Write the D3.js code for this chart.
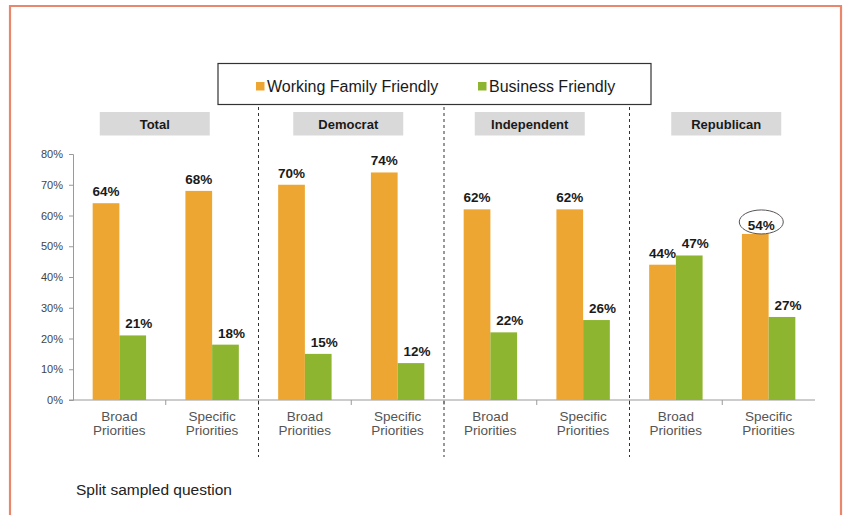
<!DOCTYPE html>
<html>
<head>
<meta charset="utf-8">
<script src="https://cdn.jsdelivr.net/npm/d3@7"></script>
<style>
  html, body { margin: 0; padding: 0; background: #fff; }
  svg { display: block; }
  text { font-family: "Liberation Sans", Arial, Helvetica, sans-serif; }
</style>
</head>
<body>
<svg id="chart" width="845" height="515"></svg>
<script>
// Party groups, each split into two question wordings
const groups = ["Total", "Democrat", "Independent", "Republican"];
const wordings = ["Broad", "Specific"];
const wordingLabels = [["Broad", "Priorities"], ["Specific", "Priorities"]];
const seriesNames = ["Working Family Friendly", "Business Friendly"];
const seriesColors = ["#eea632", "#8db52f"];

// Percent choosing each description, in group/wording order
const workingFamily = [64, 68, 70, 74, 62, 62, 44, 54];
const businessFriendly = [21, 18, 15, 12, 22, 26, 47, 27];

const yTicks = [0, 10, 20, 30, 40, 50, 60, 70, 80];
const caption = "Split sampled question";

// Value that gets an ellipse drawn around its label: [category index, series index]
const circledValue = [7, 0];

// ---- build rows ----
const categories = [];
groups.forEach(g => wordings.forEach(w => categories.push(g + "|" + w)));
const seriesValues = [workingFamily, businessFriendly];

const svg = d3.select("#chart");
const W = 845, H = 515;
const x0 = 73, x1 = 815;
const yTop = 154, yBottom = 400;

// Outer frame
svg.append("path")
  .attr("d", `M10,${H + 5} L10,6 L841,6 L841,${H + 5}`)
  .attr("fill", "none")
  .attr("stroke", "#e9866b")
  .attr("stroke-width", 2.2);

const x = d3.scaleBand().domain(categories).range([x0, x1]).padding(0);
const xs = d3.scaleBand().domain(seriesNames)
  .range([-x.bandwidth() * 0.288, x.bandwidth() * 0.288]).padding(0);
const y = d3.scaleLinear().domain([0, 80]).range([yBottom, yTop]);

// ---- y axis ----
const yAxis = d3.axisLeft(y).tickValues(yTicks).tickSize(4).tickFormat(d => d + "%");
const gy = svg.append("g").attr("transform", `translate(${x0},0)`).call(yAxis);
gy.select(".domain").attr("stroke", "#9a9a9a");
gy.selectAll(".tick line").attr("stroke", "#9a9a9a");
gy.selectAll(".tick text")
  .attr("x", -10)
  .attr("fill", "#444")
  .style("font-size", "11px");

// ---- x axis (ticks at category boundaries) ----
svg.append("line")
  .attr("x1", x0).attr("x2", x1)
  .attr("y1", y(0)).attr("y2", y(0))
  .attr("stroke", "#9a9a9a");
categories.forEach((c, i) => {
  if (i % 2 === 1 && i < categories.length - 1) {
    const bx = x(c) + x.bandwidth();
    svg.append("line")
      .attr("x1", bx).attr("x2", bx)
      .attr("y1", y(0)).attr("y2", y(0) + 5)
      .attr("stroke", "#9a9a9a");
  }
  if (i % 2 === 0) {
    const bx = x(c) + x.bandwidth();
    svg.append("line")
      .attr("x1", bx).attr("x2", bx)
      .attr("y1", y(0)).attr("y2", y(0) + 5)
      .attr("stroke", "#9a9a9a");
  }
});
svg.append("line")
  .attr("x1", x0 - 4).attr("x2", x0)
  .attr("y1", y(0)).attr("y2", y(0))
  .attr("stroke", "#9a9a9a");

// Category labels
const xl = svg.append("g");
categories.forEach((c, i) => {
  const lines = wordingLabels[i % 2];
  const t = xl.append("text")
    .attr("x", x(c) + x.bandwidth() / 2)
    .attr("y", 420.5)
    .attr("text-anchor", "middle")
    .attr("fill", "#555")
    .style("font-size", "13.5px");
  lines.forEach((ln, k) => {
    t.append("tspan")
      .attr("x", x(c) + x.bandwidth() / 2)
      .attr("dy", k === 0 ? 0 : 14.3)
      .text(ln);
  });
});

// ---- group separators ----
for (let gi = 1; gi < groups.length; gi++) {
  const sx = x(categories[gi * 2]);
  svg.append("line")
    .attr("x1", sx).attr("x2", sx)
    .attr("y1", 107).attr("y2", 457)
    .attr("stroke", "#333")
    .attr("stroke-width", 1)
    .attr("stroke-dasharray", "3,3");
}

// ---- group headers ----
const headerShift = [-11, -3, -7, 4];
groups.forEach((g, gi) => {
  const cx = x(categories[gi * 2]) + x.bandwidth() + headerShift[gi];
  svg.append("rect")
    .attr("x", cx - 55).attr("y", 112)
    .attr("width", 110).attr("height", 23.5)
    .attr("fill", "#d9d9d9");
  svg.append("text")
    .attr("x", cx).attr("y", 128.5)
    .attr("text-anchor", "middle")
    .attr("fill", "#1a1a1a")
    .style("font-size", "13px")
    .style("font-weight", "bold")
    .text(g);
});

// ---- bars ----
const rows = [];
categories.forEach((c, i) => {
  seriesNames.forEach((s, si) => {
    rows.push({
      cat: c, i, series: s, si, value: seriesValues[si][i],
      circled: i === circledValue[0] && si === circledValue[1]
    });
  });
});

svg.append("g").selectAll("rect")
  .data(rows)
  .join("rect")
  .attr("x", d => x(d.cat) + x.bandwidth() / 2 + xs(d.series))
  .attr("y", d => y(d.value))
  .attr("width", xs.bandwidth())
  .attr("height", d => y(0) - y(d.value))
  .attr("fill", d => seriesColors[d.si]);

// ---- value labels ----
const labelX = d => x(d.cat) + x.bandwidth() / 2 + xs(d.series) + xs.bandwidth() / 2
  + (d.si === 1 || d.circled ? 6 : 0);
const labelY = d => y(d.value) - (d.circled ? 4 : 7);
svg.append("g").selectAll("text")
  .data(rows)
  .join("text")
  .attr("x", labelX)
  .attr("y", labelY)
  .attr("text-anchor", "middle")
  .attr("fill", "#1a1a1a")
  .style("font-size", "13.5px")
  .style("font-weight", "bold")
  .text(d => d.value + "%");

// Ellipse around the highlighted label
const hl = rows.find(r => r.circled);
svg.append("ellipse")
  .attr("cx", labelX(hl))
  .attr("cy", labelY(hl) - 8)
  .attr("rx", 22)
  .attr("ry", 12)
  .attr("fill", "none")
  .attr("stroke", "#555")
  .attr("stroke-width", 1);

// ---- legend ----
const lg = svg.append("g");
lg.append("rect")
  .attr("x", 218).attr("y", 63.5)
  .attr("width", 433).attr("height", 41)
  .attr("fill", "#fff")
  .attr("stroke", "#333")
  .attr("stroke-width", 1.2);
const legendX = [256, 478];
seriesNames.forEach((s, si) => {
  lg.append("rect")
    .attr("x", legendX[si]).attr("y", 82)
    .attr("width", 8.5).attr("height", 8.5)
    .attr("fill", seriesColors[si]);
  lg.append("text")
    .attr("x", legendX[si] + 11).attr("y", 91.5)
    .attr("fill", "#1a1a1a")
    .style("font-size", "16px")
    .text(s);
});

// ---- caption ----
svg.append("text")
  .attr("x", 76).attr("y", 495)
  .attr("fill", "#222")
  .style("font-size", "15.5px")
  .text(caption);
</script>
</body>
</html>
